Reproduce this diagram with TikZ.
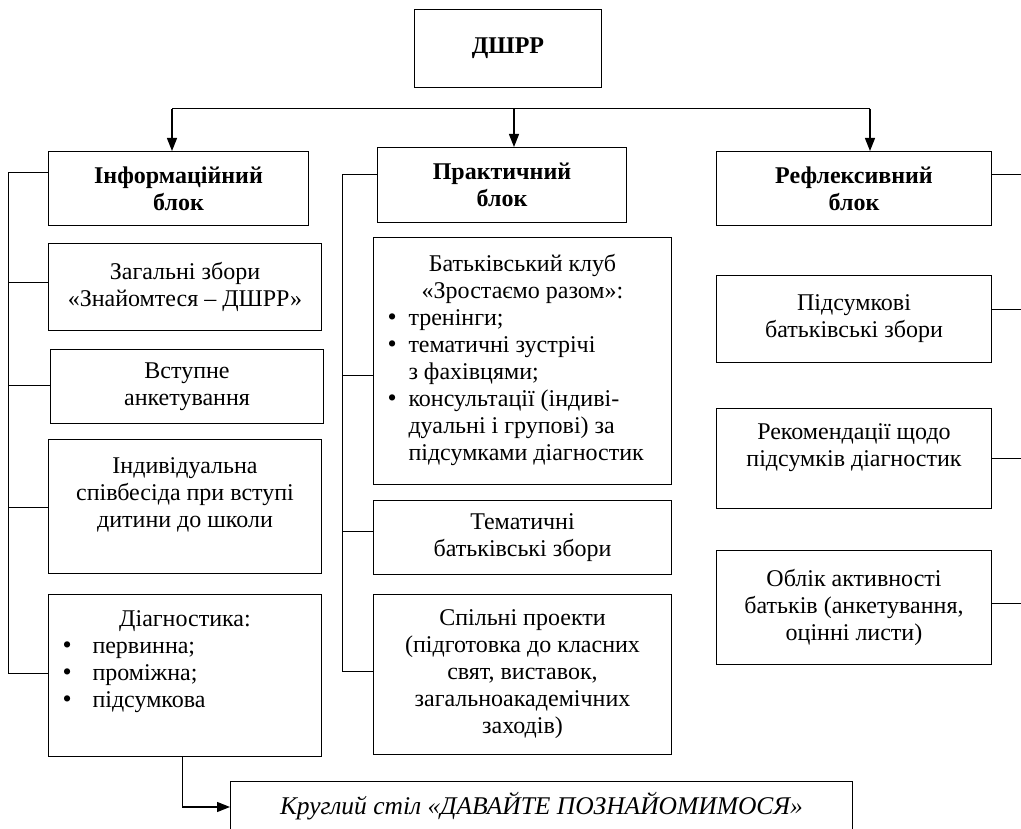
\documentclass[tikz,border=0pt]{standalone}
\usepackage{fontspec}
\setmainfont{Liberation Serif}
\usepackage{tikz}
\usetikzlibrary{arrows.meta}
\newcommand{\blt}{{\fontsize{26}{27}\selectfont •}}

\begin{document}
\begin{tikzpicture}[x=1pt,y=-1pt,
box/.style={draw,line width=1pt,anchor=north west,align=center,inner sep=0pt,
  font=\fontsize{24}{27}\selectfont},
head/.style={box,font=\fontsize{24}{27}\selectfont\bfseries},
link/.style={line width=1pt},
arr/.style={line width=1.3pt,-{Triangle[length=13pt,width=10pt]}}]
%\tikzstyle{every node}=[draw]
\path[use as bounding box,clip] (0,0) rectangle (1021,829);

\node (dshrr) [head,minimum width=187,minimum height=78] at (414,9) {ДШРР};

% left column
\node (info) [head,minimum width=260,minimum height=74] at (48,151) {Інформаційний\\блок};
\node (zag) [box,minimum width=273,minimum height=87] at (48,243) {Загальні збори\\«Знайомтеся – ДШРР»};
\node (vstup) [box,minimum width=273,minimum height=74] at (50,349) {Вступне\\анкетування};
\node (indyv) [box,minimum width=273,minimum height=134] at (48,439)
  {Індивідуальна\\співбесіда при вступі\\дитини до школи\\\mbox{}};
\node (diag) [box,minimum width=273,minimum height=162] at (48,594)
  {\begin{tabular}{@{\hspace{14pt}}p{30pt}@{}p{229pt}@{}}
    \multicolumn{2}{@{}c@{}}{Діагностика:}\\
    \blt & первинна;\\
    \blt & проміжна;\\
    \blt & підсумкова\\
    \multicolumn{2}{c}{}
  \end{tabular}};

% middle column
\node (prakt) [head,minimum width=249,minimum height=75] at (377,147) {Практичний\\блок};
\node (klub) [box,minimum width=298,minimum height=247] at (373,237)
  {\begin{tabular}{@{\hspace{14pt}}p{21pt}@{}p{263pt}@{}}
    \multicolumn{2}{@{}c@{}}{Батьківський клуб}\\
    \multicolumn{2}{@{}c@{}}{«Зростаємо разом»:}\\
    \blt & тренінги;\\
    \blt & тематичні зустрічі\\
      & з фахівцями;\\
    \blt & консультації (індиві-\\
      & дуальні і групові) за\\
      & підсумками діагностик
  \end{tabular}};
\node (temat) [box,minimum width=298,minimum height=74] at (373,500) {Тематичні\\батьківські збори};
\node (spiln) [box,minimum width=298,minimum height=160] at (373,594)
  {Спільні проекти\\(підготовка до класних\\свят, виставок,\\загальноакадемічних\\заходів)};

% right column
\node (refl) [head,minimum width=275,minimum height=74] at (716,151) {Рефлексивний\\блок};
\node (pidsum) [box,minimum width=275,minimum height=87] at (716,275) {Підсумкові\\батьківські збори};
\node (rekom) [box,minimum width=275,minimum height=100] at (716,408)
  {Рекомендації щодо\\підсумків діагностик\\\mbox{}};
\node (oblik) [box,minimum width=275,minimum height=114] at (716,550)
  {Облік активності\\батьків (анкетування,\\оцінні листи)};

\node (kruhl) [box,minimum width=622,minimum height=50,font=\fontsize{25.5}{27}\selectfont\itshape] at (230,781)
  {Круглий стіл «ДАВАЙТЕ ПОЗНАЙОМИМОСЯ»};

% top bus
\coordinate (tb1) at (172,109);
\coordinate (tb2) at (514,109);
\coordinate (tb3) at (870,109);
\draw[link] (tb1) -- (tb3);
\draw[arr] (tb1) -- (tb1 |- info.north);
\draw[arr] (tb2) -- (tb2 |- prakt.north);
\draw[arr] (tb3) -- (tb3 |- refl.north);

% left bus
\coordinate (l1) at (8,173);
\coordinate (l2) at (8,283);
\coordinate (l3) at (8,385);
\coordinate (l4) at (8,507);
\coordinate (l5) at (8,673);
\draw[link] (l1) -- (l5);
\draw[link] (l1) -- (l1 -| info.west);
\draw[link] (l2) -- (l2 -| zag.west);
\draw[link] (l3) -- (l3 -| vstup.west);
\draw[link] (l4) -- (l4 -| indyv.west);
\draw[link] (l5) -- (l5 -| diag.west);

% middle bus
\coordinate (m1) at (342,175);
\coordinate (m2) at (342,375);
\coordinate (m3) at (342,531);
\coordinate (m4) at (342,671);
\draw[link] (m1) -- (m4);
\draw[link] (m1) -- (m1 -| prakt.west);
\draw[link] (m2) -- (m2 -| klub.west);
\draw[link] (m3) -- (m3 -| temat.west);
\draw[link] (m4) -- (m4 -| spiln.west);

% right side, runs off the page
\coordinate (r1) at (1030,175);
\coordinate (r2) at (1030,310);
\coordinate (r3) at (1030,458);
\coordinate (r4) at (1030,603);
\draw[link] (r1 -| refl.east) -- (r1);
\draw[link] (r2 -| pidsum.east) -- (r2);
\draw[link] (r3 -| rekom.east) -- (r3);
\draw[link] (r4 -| oblik.east) -- (r4);

% round table
\coordinate (dk) at (182,807);
\draw[link] (dk |- diag.south) -- (dk);
\draw[arr] (dk) -- (dk -| kruhl.west);
\end{tikzpicture}
\end{document}
